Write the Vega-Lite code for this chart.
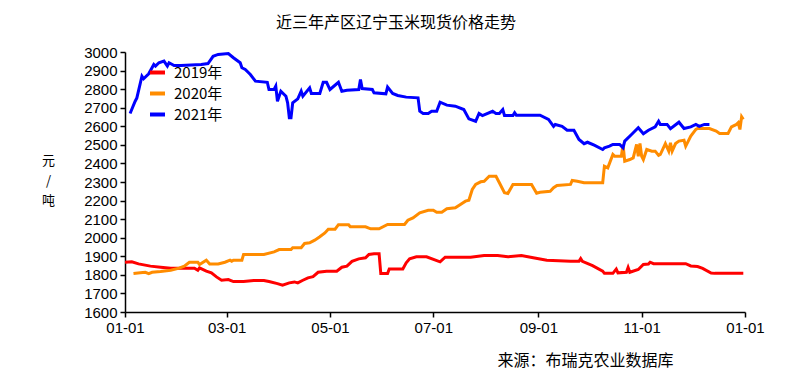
{
  "$schema": "https://vega.github.io/schema/vega-lite/v6.json",
  "width": 620,
  "height": 260,
  "autosize": {"type": "none"},
  "padding": {"left": 125, "top": 52, "right": 50, "bottom": 59},
  "background": "white",
  "title": {
    "text": "近三年产区辽宁玉米现货价格走势",
    "font": "Noto Sans CJK SC",
    "fontSize": 16,
    "fontWeight": "normal",
    "color": "#000000",
    "anchor": "middle",
    "frame": "group",
    "dx": -39,
    "offset": 14
  },
  "config": {
    "view": {"stroke": null},
    "axis": {
      "domainColor": "#000000",
      "tickColor": "#000000",
      "labelColor": "#000000",
      "titleColor": "#000000",
      "grid": false,
      "domainWidth": 1.5,
      "tickWidth": 1.5,
      "tickSize": 5
    }
  },
  "datasets": {
    "prices": [
      {"series": "2019年", "date": "2020-01-01", "price": 1868},
      {"series": "2019年", "date": "2020-01-05", "price": 1870},
      {"series": "2019年", "date": "2020-01-09", "price": 1859},
      {"series": "2019年", "date": "2020-01-16", "price": 1847},
      {"series": "2019年", "date": "2020-01-22", "price": 1841},
      {"series": "2019年", "date": "2020-01-28", "price": 1836},
      {"series": "2019年", "date": "2020-02-11", "price": 1836},
      {"series": "2019年", "date": "2020-02-13", "price": 1825},
      {"series": "2019年", "date": "2020-02-14", "price": 1838},
      {"series": "2019年", "date": "2020-02-18", "price": 1820},
      {"series": "2019年", "date": "2020-02-21", "price": 1811},
      {"series": "2019年", "date": "2020-02-24", "price": 1789},
      {"series": "2019年", "date": "2020-02-27", "price": 1771},
      {"series": "2019年", "date": "2020-03-02", "price": 1775},
      {"series": "2019年", "date": "2020-03-05", "price": 1764},
      {"series": "2019年", "date": "2020-03-11", "price": 1764},
      {"series": "2019年", "date": "2020-03-17", "price": 1770},
      {"series": "2019年", "date": "2020-03-23", "price": 1770},
      {"series": "2019年", "date": "2020-03-26", "price": 1764},
      {"series": "2019年", "date": "2020-03-31", "price": 1753},
      {"series": "2019年", "date": "2020-04-03", "price": 1744},
      {"series": "2019年", "date": "2020-04-07", "price": 1757},
      {"series": "2019年", "date": "2020-04-10", "price": 1762},
      {"series": "2019年", "date": "2020-04-12", "price": 1757},
      {"series": "2019年", "date": "2020-04-15", "price": 1771},
      {"series": "2019年", "date": "2020-04-18", "price": 1784},
      {"series": "2019年", "date": "2020-04-21", "price": 1790},
      {"series": "2019年", "date": "2020-04-24", "price": 1814},
      {"series": "2019年", "date": "2020-04-29", "price": 1820},
      {"series": "2019年", "date": "2020-05-05", "price": 1820},
      {"series": "2019年", "date": "2020-05-08", "price": 1841},
      {"series": "2019年", "date": "2020-05-11", "price": 1847},
      {"series": "2019年", "date": "2020-05-14", "price": 1873},
      {"series": "2019年", "date": "2020-05-18", "price": 1886},
      {"series": "2019年", "date": "2020-05-22", "price": 1892},
      {"series": "2019年", "date": "2020-05-24", "price": 1910},
      {"series": "2019年", "date": "2020-05-27", "price": 1913},
      {"series": "2019年", "date": "2020-05-30", "price": 1913},
      {"series": "2019年", "date": "2020-05-31", "price": 1807},
      {"series": "2019年", "date": "2020-06-04", "price": 1807},
      {"series": "2019年", "date": "2020-06-05", "price": 1832},
      {"series": "2019年", "date": "2020-06-13", "price": 1832},
      {"series": "2019年", "date": "2020-06-15", "price": 1865},
      {"series": "2019年", "date": "2020-06-17", "price": 1886},
      {"series": "2019年", "date": "2020-06-21", "price": 1897},
      {"series": "2019年", "date": "2020-06-27", "price": 1897},
      {"series": "2019年", "date": "2020-07-05", "price": 1870},
      {"series": "2019年", "date": "2020-07-08", "price": 1895},
      {"series": "2019年", "date": "2020-07-15", "price": 1895},
      {"series": "2019年", "date": "2020-07-23", "price": 1895},
      {"series": "2019年", "date": "2020-07-31", "price": 1904},
      {"series": "2019年", "date": "2020-08-08", "price": 1904},
      {"series": "2019年", "date": "2020-08-14", "price": 1897},
      {"series": "2019年", "date": "2020-08-22", "price": 1904},
      {"series": "2019年", "date": "2020-08-29", "price": 1892},
      {"series": "2019年", "date": "2020-09-06", "price": 1879},
      {"series": "2019年", "date": "2020-09-20", "price": 1873},
      {"series": "2019年", "date": "2020-09-25", "price": 1873},
      {"series": "2019年", "date": "2020-09-26", "price": 1888},
      {"series": "2019年", "date": "2020-09-27", "price": 1873},
      {"series": "2019年", "date": "2020-10-03", "price": 1850},
      {"series": "2019年", "date": "2020-10-09", "price": 1820},
      {"series": "2019年", "date": "2020-10-10", "price": 1808},
      {"series": "2019年", "date": "2020-10-15", "price": 1808},
      {"series": "2019年", "date": "2020-10-17", "price": 1831},
      {"series": "2019年", "date": "2020-10-18", "price": 1811},
      {"series": "2019年", "date": "2020-10-23", "price": 1814},
      {"series": "2019年", "date": "2020-10-24", "price": 1840},
      {"series": "2019年", "date": "2020-10-25", "price": 1814},
      {"series": "2019年", "date": "2020-10-30", "price": 1829},
      {"series": "2019年", "date": "2020-11-02", "price": 1856},
      {"series": "2019年", "date": "2020-11-05", "price": 1858},
      {"series": "2019年", "date": "2020-11-06", "price": 1868},
      {"series": "2019年", "date": "2020-11-08", "price": 1860},
      {"series": "2019年", "date": "2020-11-27", "price": 1860},
      {"series": "2019年", "date": "2020-11-30", "price": 1848},
      {"series": "2019年", "date": "2020-12-04", "price": 1845},
      {"series": "2019年", "date": "2020-12-07", "price": 1835},
      {"series": "2019年", "date": "2020-12-12", "price": 1810},
      {"series": "2019年", "date": "2020-12-14", "price": 1808},
      {"series": "2019年", "date": "2020-12-31", "price": 1808},
      {"series": "2020年", "date": "2020-01-06", "price": 1807},
      {"series": "2020年", "date": "2020-01-10", "price": 1811},
      {"series": "2020年", "date": "2020-01-13", "price": 1814},
      {"series": "2020年", "date": "2020-01-15", "price": 1807},
      {"series": "2020年", "date": "2020-01-17", "price": 1814},
      {"series": "2020年", "date": "2020-01-22", "price": 1818},
      {"series": "2020年", "date": "2020-01-28", "price": 1825},
      {"series": "2020年", "date": "2020-02-02", "price": 1836},
      {"series": "2020年", "date": "2020-02-05", "price": 1847},
      {"series": "2020年", "date": "2020-02-08", "price": 1868},
      {"series": "2020年", "date": "2020-02-13", "price": 1868},
      {"series": "2020年", "date": "2020-02-14", "price": 1856},
      {"series": "2020年", "date": "2020-02-18", "price": 1879},
      {"series": "2020年", "date": "2020-02-20", "price": 1859},
      {"series": "2020年", "date": "2020-02-25", "price": 1859},
      {"series": "2020年", "date": "2020-02-29", "price": 1868},
      {"series": "2020年", "date": "2020-03-03", "price": 1879},
      {"series": "2020年", "date": "2020-03-04", "price": 1873},
      {"series": "2020年", "date": "2020-03-05", "price": 1879},
      {"series": "2020年", "date": "2020-03-10", "price": 1879},
      {"series": "2020年", "date": "2020-03-11", "price": 1910},
      {"series": "2020年", "date": "2020-03-23", "price": 1910},
      {"series": "2020年", "date": "2020-03-29", "price": 1924},
      {"series": "2020年", "date": "2020-04-01", "price": 1936},
      {"series": "2020年", "date": "2020-04-08", "price": 1936},
      {"series": "2020年", "date": "2020-04-09", "price": 1946},
      {"series": "2020年", "date": "2020-04-14", "price": 1946},
      {"series": "2020年", "date": "2020-04-16", "price": 1969},
      {"series": "2020年", "date": "2020-04-19", "price": 1973},
      {"series": "2020年", "date": "2020-04-22", "price": 1987},
      {"series": "2020年", "date": "2020-04-25", "price": 2005},
      {"series": "2020年", "date": "2020-04-28", "price": 2026},
      {"series": "2020年", "date": "2020-04-30", "price": 2046},
      {"series": "2020年", "date": "2020-05-04", "price": 2046},
      {"series": "2020年", "date": "2020-05-06", "price": 2070},
      {"series": "2020年", "date": "2020-05-12", "price": 2070},
      {"series": "2020年", "date": "2020-05-13", "price": 2059},
      {"series": "2020年", "date": "2020-05-22", "price": 2059},
      {"series": "2020年", "date": "2020-05-25", "price": 2048},
      {"series": "2020年", "date": "2020-05-30", "price": 2048},
      {"series": "2020年", "date": "2020-06-04", "price": 2071},
      {"series": "2020年", "date": "2020-06-14", "price": 2071},
      {"series": "2020年", "date": "2020-06-16", "price": 2094},
      {"series": "2020年", "date": "2020-06-19", "price": 2107},
      {"series": "2020年", "date": "2020-06-23", "price": 2134},
      {"series": "2020年", "date": "2020-06-28", "price": 2148},
      {"series": "2020年", "date": "2020-07-01", "price": 2148},
      {"series": "2020年", "date": "2020-07-03", "price": 2137},
      {"series": "2020年", "date": "2020-07-06", "price": 2137},
      {"series": "2020年", "date": "2020-07-09", "price": 2156},
      {"series": "2020年", "date": "2020-07-14", "price": 2161},
      {"series": "2020年", "date": "2020-07-17", "price": 2179},
      {"series": "2020年", "date": "2020-07-20", "price": 2197},
      {"series": "2020年", "date": "2020-07-22", "price": 2202},
      {"series": "2020年", "date": "2020-07-24", "price": 2260},
      {"series": "2020年", "date": "2020-07-26", "price": 2287},
      {"series": "2020年", "date": "2020-07-29", "price": 2301},
      {"series": "2020年", "date": "2020-07-31", "price": 2304},
      {"series": "2020年", "date": "2020-08-03", "price": 2331},
      {"series": "2020年", "date": "2020-08-07", "price": 2331},
      {"series": "2020年", "date": "2020-08-09", "price": 2296},
      {"series": "2020年", "date": "2020-08-12", "price": 2242},
      {"series": "2020年", "date": "2020-08-14", "price": 2238},
      {"series": "2020年", "date": "2020-08-17", "price": 2287},
      {"series": "2020年", "date": "2020-08-28", "price": 2287},
      {"series": "2020年", "date": "2020-08-31", "price": 2240},
      {"series": "2020年", "date": "2020-09-02", "price": 2245},
      {"series": "2020年", "date": "2020-09-08", "price": 2250},
      {"series": "2020年", "date": "2020-09-10", "price": 2269},
      {"series": "2020年", "date": "2020-09-12", "price": 2281},
      {"series": "2020年", "date": "2020-09-20", "price": 2287},
      {"series": "2020年", "date": "2020-09-21", "price": 2308},
      {"series": "2020年", "date": "2020-09-24", "price": 2304},
      {"series": "2020年", "date": "2020-09-28", "price": 2296},
      {"series": "2020年", "date": "2020-10-09", "price": 2296},
      {"series": "2020年", "date": "2020-10-10", "price": 2385},
      {"series": "2020年", "date": "2020-10-12", "price": 2376},
      {"series": "2020年", "date": "2020-10-15", "price": 2448},
      {"series": "2020年", "date": "2020-10-16", "price": 2439},
      {"series": "2020年", "date": "2020-10-20", "price": 2439},
      {"series": "2020年", "date": "2020-10-21", "price": 2502},
      {"series": "2020年", "date": "2020-10-22", "price": 2412},
      {"series": "2020年", "date": "2020-10-25", "price": 2421},
      {"series": "2020年", "date": "2020-10-27", "price": 2430},
      {"series": "2020年", "date": "2020-10-29", "price": 2502},
      {"series": "2020年", "date": "2020-10-30", "price": 2439},
      {"series": "2020年", "date": "2020-10-31", "price": 2507},
      {"series": "2020年", "date": "2020-11-01", "price": 2439},
      {"series": "2020年", "date": "2020-11-02", "price": 2421},
      {"series": "2020年", "date": "2020-11-04", "price": 2475},
      {"series": "2020年", "date": "2020-11-07", "price": 2466},
      {"series": "2020年", "date": "2020-11-09", "price": 2466},
      {"series": "2020年", "date": "2020-11-11", "price": 2443},
      {"series": "2020年", "date": "2020-11-12", "price": 2448},
      {"series": "2020年", "date": "2020-11-15", "price": 2507},
      {"series": "2020年", "date": "2020-11-17", "price": 2466},
      {"series": "2020年", "date": "2020-11-18", "price": 2511},
      {"series": "2020年", "date": "2020-11-19", "price": 2466},
      {"series": "2020年", "date": "2020-11-21", "price": 2507},
      {"series": "2020年", "date": "2020-11-23", "price": 2520},
      {"series": "2020年", "date": "2020-11-26", "price": 2525},
      {"series": "2020年", "date": "2020-11-27", "price": 2493},
      {"series": "2020年", "date": "2020-11-30", "price": 2547},
      {"series": "2020年", "date": "2020-12-03", "price": 2583},
      {"series": "2020年", "date": "2020-12-04", "price": 2588},
      {"series": "2020年", "date": "2020-12-11", "price": 2588},
      {"series": "2020年", "date": "2020-12-15", "price": 2574},
      {"series": "2020年", "date": "2020-12-17", "price": 2561},
      {"series": "2020年", "date": "2020-12-22", "price": 2561},
      {"series": "2020年", "date": "2020-12-24", "price": 2597},
      {"series": "2020年", "date": "2020-12-27", "price": 2610},
      {"series": "2020年", "date": "2020-12-28", "price": 2619},
      {"series": "2020年", "date": "2020-12-29", "price": 2583},
      {"series": "2020年", "date": "2020-12-30", "price": 2651},
      {"series": "2020年", "date": "2020-12-31", "price": 2637},
      {"series": "2021年", "date": "2020-01-04", "price": 2669},
      {"series": "2021年", "date": "2020-01-07", "price": 2735},
      {"series": "2021年", "date": "2020-01-08", "price": 2753},
      {"series": "2021年", "date": "2020-01-11", "price": 2870},
      {"series": "2021年", "date": "2020-01-12", "price": 2856},
      {"series": "2021年", "date": "2020-01-15", "price": 2883},
      {"series": "2021年", "date": "2020-01-18", "price": 2933},
      {"series": "2021年", "date": "2020-01-19", "price": 2924},
      {"series": "2021年", "date": "2020-01-21", "price": 2942},
      {"series": "2021年", "date": "2020-01-24", "price": 2951},
      {"series": "2021年", "date": "2020-01-26", "price": 2924},
      {"series": "2021年", "date": "2020-01-27", "price": 2942},
      {"series": "2021年", "date": "2020-01-30", "price": 2927},
      {"series": "2021年", "date": "2020-02-03", "price": 2927},
      {"series": "2021年", "date": "2020-02-15", "price": 2933},
      {"series": "2021年", "date": "2020-02-19", "price": 2938},
      {"series": "2021年", "date": "2020-02-22", "price": 2977},
      {"series": "2021年", "date": "2020-02-25", "price": 2987},
      {"series": "2021年", "date": "2020-03-02", "price": 2992},
      {"series": "2021年", "date": "2020-03-05", "price": 2969},
      {"series": "2021年", "date": "2020-03-09", "price": 2942},
      {"series": "2021年", "date": "2020-03-10", "price": 2915},
      {"series": "2021年", "date": "2020-03-12", "price": 2906},
      {"series": "2021年", "date": "2020-03-15", "price": 2879},
      {"series": "2021年", "date": "2020-03-18", "price": 2843},
      {"series": "2021年", "date": "2020-03-25", "price": 2837},
      {"series": "2021年", "date": "2020-03-26", "price": 2798},
      {"series": "2021年", "date": "2020-03-29", "price": 2798},
      {"series": "2021年", "date": "2020-03-30", "price": 2816},
      {"series": "2021年", "date": "2020-03-31", "price": 2735},
      {"series": "2021年", "date": "2020-04-02", "price": 2789},
      {"series": "2021年", "date": "2020-04-05", "price": 2762},
      {"series": "2021年", "date": "2020-04-06", "price": 2726},
      {"series": "2021年", "date": "2020-04-07", "price": 2646},
      {"series": "2021年", "date": "2020-04-08", "price": 2646},
      {"series": "2021年", "date": "2020-04-09", "price": 2726},
      {"series": "2021年", "date": "2020-04-12", "price": 2748},
      {"series": "2021年", "date": "2020-04-14", "price": 2789},
      {"series": "2021年", "date": "2020-04-15", "price": 2762},
      {"series": "2021年", "date": "2020-04-19", "price": 2807},
      {"series": "2021年", "date": "2020-04-20", "price": 2777},
      {"series": "2021年", "date": "2020-04-25", "price": 2777},
      {"series": "2021年", "date": "2020-04-27", "price": 2837},
      {"series": "2021年", "date": "2020-04-29", "price": 2837},
      {"series": "2021年", "date": "2020-05-01", "price": 2798},
      {"series": "2021年", "date": "2020-05-06", "price": 2837},
      {"series": "2021年", "date": "2020-05-08", "price": 2789},
      {"series": "2021年", "date": "2020-05-11", "price": 2794},
      {"series": "2021年", "date": "2020-05-18", "price": 2798},
      {"series": "2021年", "date": "2020-05-19", "price": 2852},
      {"series": "2021年", "date": "2020-05-20", "price": 2803},
      {"series": "2021年", "date": "2020-05-26", "price": 2798},
      {"series": "2021年", "date": "2020-05-27", "price": 2780},
      {"series": "2021年", "date": "2020-06-03", "price": 2775},
      {"series": "2021年", "date": "2020-06-04", "price": 2811},
      {"series": "2021年", "date": "2020-06-07", "price": 2777},
      {"series": "2021年", "date": "2020-06-10", "price": 2766},
      {"series": "2021年", "date": "2020-06-15", "price": 2757},
      {"series": "2021年", "date": "2020-06-22", "price": 2753},
      {"series": "2021年", "date": "2020-06-23", "price": 2681},
      {"series": "2021年", "date": "2020-06-25", "price": 2669},
      {"series": "2021年", "date": "2020-06-28", "price": 2669},
      {"series": "2021年", "date": "2020-06-30", "price": 2681},
      {"series": "2021年", "date": "2020-07-03", "price": 2681},
      {"series": "2021年", "date": "2020-07-05", "price": 2730},
      {"series": "2021年", "date": "2020-07-09", "price": 2714},
      {"series": "2021年", "date": "2020-07-14", "price": 2708},
      {"series": "2021年", "date": "2020-07-19", "price": 2690},
      {"series": "2021年", "date": "2020-07-22", "price": 2640},
      {"series": "2021年", "date": "2020-07-26", "price": 2627},
      {"series": "2021年", "date": "2020-07-28", "price": 2669},
      {"series": "2021年", "date": "2020-07-30", "price": 2658},
      {"series": "2021年", "date": "2020-08-05", "price": 2681},
      {"series": "2021年", "date": "2020-08-07", "price": 2669},
      {"series": "2021年", "date": "2020-08-09", "price": 2669},
      {"series": "2021年", "date": "2020-08-11", "price": 2690},
      {"series": "2021年", "date": "2020-08-12", "price": 2658},
      {"series": "2021年", "date": "2020-08-17", "price": 2658},
      {"series": "2021年", "date": "2020-08-18", "price": 2673},
      {"series": "2021年", "date": "2020-08-19", "price": 2660},
      {"series": "2021年", "date": "2020-09-02", "price": 2660},
      {"series": "2021年", "date": "2020-09-07", "price": 2637},
      {"series": "2021年", "date": "2020-09-10", "price": 2600},
      {"series": "2021年", "date": "2020-09-11", "price": 2610},
      {"series": "2021年", "date": "2020-09-15", "price": 2600},
      {"series": "2021年", "date": "2020-09-18", "price": 2579},
      {"series": "2021年", "date": "2020-09-22", "price": 2579},
      {"series": "2021年", "date": "2020-09-25", "price": 2529},
      {"series": "2021年", "date": "2020-09-28", "price": 2506},
      {"series": "2021年", "date": "2020-09-30", "price": 2514},
      {"series": "2021年", "date": "2020-10-04", "price": 2498},
      {"series": "2021年", "date": "2020-10-09", "price": 2475},
      {"series": "2021年", "date": "2020-10-10", "price": 2484},
      {"series": "2021年", "date": "2020-10-13", "price": 2493},
      {"series": "2021年", "date": "2020-10-15", "price": 2502},
      {"series": "2021年", "date": "2020-10-19", "price": 2502},
      {"series": "2021年", "date": "2020-10-21", "price": 2484},
      {"series": "2021年", "date": "2020-10-22", "price": 2520},
      {"series": "2021年", "date": "2020-10-26", "price": 2556},
      {"series": "2021年", "date": "2020-10-30", "price": 2592},
      {"series": "2021年", "date": "2020-11-02", "price": 2560},
      {"series": "2021年", "date": "2020-11-05", "price": 2579},
      {"series": "2021年", "date": "2020-11-09", "price": 2597},
      {"series": "2021年", "date": "2020-11-11", "price": 2627},
      {"series": "2021年", "date": "2020-11-12", "price": 2610},
      {"series": "2021年", "date": "2020-11-16", "price": 2610},
      {"series": "2021年", "date": "2020-11-18", "price": 2587},
      {"series": "2021年", "date": "2020-11-23", "price": 2622},
      {"series": "2021年", "date": "2020-11-26", "price": 2588},
      {"series": "2021年", "date": "2020-11-30", "price": 2597},
      {"series": "2021年", "date": "2020-12-03", "price": 2610},
      {"series": "2021年", "date": "2020-12-05", "price": 2600},
      {"series": "2021年", "date": "2020-12-08", "price": 2610},
      {"series": "2021年", "date": "2020-12-11", "price": 2610}
    ]
  },
  "data": {"name": "prices"},
  "mark": {"type": "line", "strokeWidth": 3, "interpolate": "linear"},
  "encoding": {
    "x": {
      "field": "date",
      "type": "temporal",
      "scale": {
        "type": "utc",
        "domain": [
          {"year": 2020, "month": 1, "date": 1, "utc": true},
          {"year": 2021, "month": 1, "date": 1, "utc": true}
        ],
        "nice": false
      },
      "axis": {
        "format": "%m-%d",
        "tickCount": {"interval": "month", "step": 2},
        "labelFont": "Liberation Sans",
        "labelFontSize": 15,
        "labelPadding": 3,
        "labelFlush": false,
        "labelOverlap": false,
        "title": "来源：布瑞克农业数据库",
        "titleFont": "Noto Sans CJK SC",
        "titleFontSize": 16,
        "titleFontWeight": "normal",
        "titleAlign": "center",
        "titleBaseline": "middle",
        "titleX": 460,
        "titleY": 48
      }
    },
    "y": {
      "field": "price",
      "type": "quantitative",
      "scale": {"domain": [1600, 3000], "nice": false, "zero": false},
      "axis": {
        "values": [1600, 1700, 1800, 1900, 2000, 2100, 2200, 2300, 2400, 2500, 2600, 2700, 2800, 2900, 3000],
        "format": "d",
        "labelFont": "Liberation Sans",
        "labelFontSize": 15,
        "labelPadding": 3,
        "labelFlush": false,
        "labelOverlap": false,
        "title": ["元", "/", "吨"],
        "titleAngle": 0,
        "titleFont": "Noto Sans CJK SC",
        "titleFontSize": 13,
        "titleFontWeight": "normal",
        "titleLineHeight": 20,
        "titleAlign": "center",
        "titleBaseline": "top",
        "titleX": -77,
        "titleY": 102
      }
    },
    "color": {
      "field": "series",
      "type": "nominal",
      "scale": {
        "domain": ["2019年", "2020年", "2021年"],
        "range": ["#FF0000", "#FF8C00", "#0000FF"]
      },
      "legend": {
        "title": null,
        "orient": "none",
        "legendX": 23,
        "legendY": 11,
        "symbolType": "stroke",
        "symbolStrokeWidth": 4,
        "symbolSize": 225,
        "labelFont": "Noto Sans CJK SC",
        "labelFontSize": 15,
        "labelColor": "#000000",
        "labelOffset": 7,
        "rowPadding": 3
      }
    }
  }
}
